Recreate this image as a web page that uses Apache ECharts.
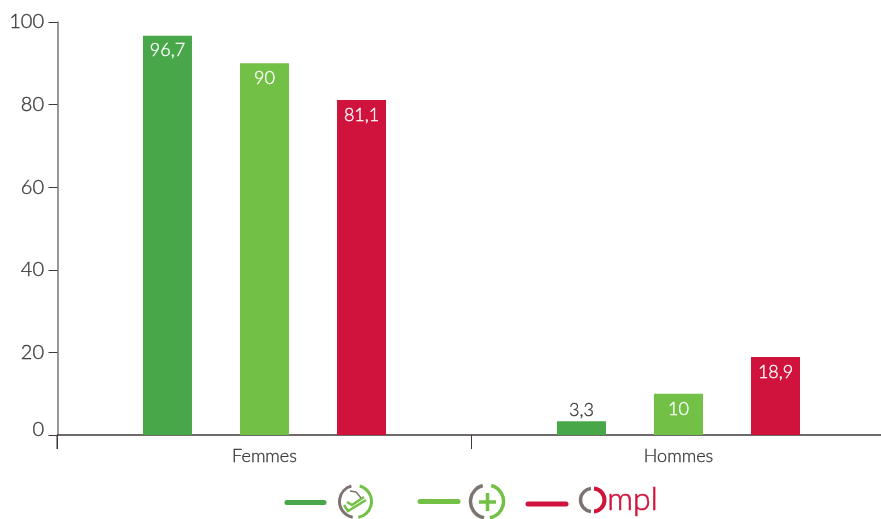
<!DOCTYPE html>
<html><head><meta charset="utf-8">
<style>html,body{margin:0;padding:0;background:#fff}#c{width:881px;height:519px}</style>
<script src="https://cdn.jsdelivr.net/npm/echarts@6/dist/echarts.min.js"></script>
</head><body><div id="c"></div>
<script>
const categories = ['Femmes', 'Hommes'];
const yTicks = [0, 20, 40, 60, 80, 100];
const seriesA = [96.7, 3.3];
const seriesB = [90, 10];
const seriesC = [81.1, 18.9];
const colors = ['#48a748', '#72c045', '#cf133d'];
const FONT = 'Lato';
const DARK = '#3e3a39';
const GRAY = '#7d7471';
const HEFT = 0.35;

const comma = v => String(v).replace('.', ',');
function bar(name, values, color) {
  return {
    name, type: 'bar', barWidth: 49, barGap: '98%',
    data: values.map(v => ({
      value: v,
      label: v < 5
        ? {show: true, position: 'top', distance: 2, color: DARK, textBorderColor: DARK, textBorderWidth: HEFT}
        : {show: true, position: 'insideTop', distance: 6, color: '#fff', textBorderColor: '#fff', textBorderWidth: HEFT}
    })),
    itemStyle: {color},
    label: {show: true, fontFamily: FONT, fontSize: 18, fontWeight: 300, formatter: p => comma(p.value)}
  };
}
function arc(cx, cy, r, a, b, color, w) {
  return {type: 'arc', shape: {cx, cy, r, startAngle: a * Math.PI / 180, endAngle: b * Math.PI / 180},
    style: {stroke: color, lineWidth: w, fill: null}, silent: true};
}
function line(x1, x2, y, color) {
  return {type: 'line', shape: {x1, y1: y, x2, y2: y}, style: {stroke: color, lineWidth: 5, lineCap: 'round'}, silent: true};
}
function path(points, color, w) {
  return {type: 'polyline', shape: {points}, style: {stroke: color, lineWidth: w, fill: null}, silent: true};
}
const legendIcons = [
  {type: 'line', shape: {x1: 57, y1: 435, x2: 57, y2: 449}, style: {stroke: GRAY, lineWidth: 1.5}, silent: true},
  line(287, 324, 502.5, colors[0]),
  arc(355.5, 501.5, 16, 100, 255, GRAY, 3),
  arc(355.5, 501.5, 16, 285, 80, colors[1], 3),
  path([[344, 505], [348, 511], [366, 500]], colors[1], 2.5),
  path([[347, 502], [352, 505], [364, 497]], colors[1], 2.5),
  path([[350, 491], [356, 492], [361, 498]], GRAY, 1.4),
  line(420, 458, 501.5, colors[1]),
  arc(487, 501.5, 16.5, 100, 255, GRAY, 3.5),
  arc(487, 501.5, 16.5, 285, 80, colors[1], 3.5),
  path([[479, 502], [496, 502]], colors[1], 3.5),
  path([[487.5, 493], [487.5, 511]], colors[1], 3.5),
  line(528, 566, 504, colors[2]),
  arc(592, 500, 11.5, 95, 265, GRAY, 3.5),
  arc(593, 500, 11.5, 275, 85, colors[2], 4),
  {type: 'text', left: 607, top: 483, silent: true,
    style: {text: 'mpl', fontFamily: FONT, fontSize: 32, fontWeight: 300, fill: colors[2], stroke: colors[2], lineWidth: 0.6}}
];

const chart = echarts.init(document.getElementById('c'), null, {renderer: 'canvas'});
chart.setOption({
  animation: false,
  backgroundColor: '#fff',
  grid: {left: 57.49, width: 828, top: 22, height: 413, outerBoundsMode: 'none'},
  xAxis: {
    type: 'category', data: categories,
    axisLine: {lineStyle: {color: DARK, width: 1.5}},
    axisTick: {show: true, length: 14, lineStyle: {color: DARK, width: 1}},
    axisLabel: {fontFamily: FONT, fontSize: 18, fontWeight: 300, color: DARK, margin: 12, textBorderColor: DARK, textBorderWidth: HEFT}
  },
  yAxis: {
    type: 'value', min: yTicks[0], max: yTicks[yTicks.length - 1], interval: 20,
    splitLine: {show: false},
    axisLine: {show: true, lineStyle: {color: GRAY, width: 1.5}},
    axisTick: {show: true, length: 9, lineStyle: {color: DARK, width: 1}},
    axisLabel: {
      fontFamily: FONT, fontSize: 20, fontWeight: 300, color: DARK, margin: 13.5, textBorderColor: DARK, textBorderWidth: HEFT,
      formatter: v => v === 0 ? '{z|0}' : String(v),
      rich: {z: {fontFamily: FONT, fontSize: 20, fontWeight: 300, color: DARK, padding: [0, 0, 10, 0], textBorderColor: DARK, textBorderWidth: HEFT}}
    }
  },
  series: [bar('Série 1', seriesA, colors[0]), bar('Série 2', seriesB, colors[1]), bar('Ompl', seriesC, colors[2])],
  graphic: legendIcons
});
</script></body></html>
